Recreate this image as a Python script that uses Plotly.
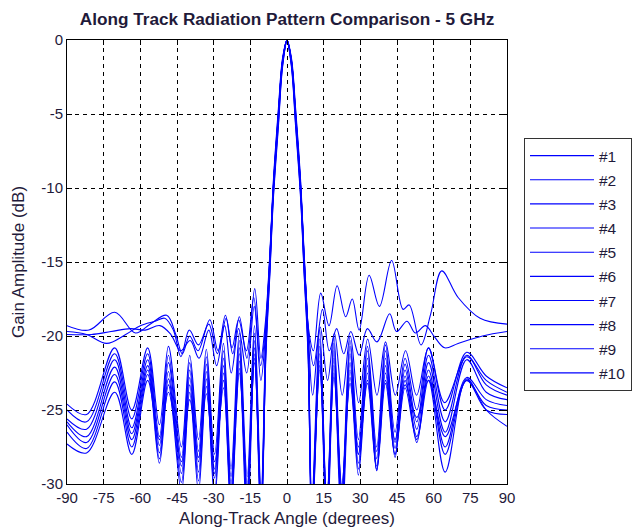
import plotly.graph_objects as go

# ---- data ----
angle_key = [-90, -82, -70.5, -63.5, -57, -52.2, -48.5, -43.2, -39.8, -36.2, -33, -29.6, -26, -22.9,
             -19.5, -16.3, -13.3, -10.6, -8.6, -7.0, -5.6, -3.5, -1.8, 0, 1.8, 3.5, 5.6, 7.0, 8.6,
             10.2, 13.4, 16.3, 19.2, 22.4, 25.8, 29.2, 32.9, 36.7, 40.3, 44.2, 48.3, 53.1, 57.9,
             64.7, 73.5, 81.5, 90]

gain_1 = [-24.6, -25.3, -20.8, -25.0, -20.8, -26.0, -20.7, -27.5, -21.3, -27.0, -20.9, -28.0, -20.5, -29.0,
          -19.8, -29.5, -19.3, -30.5, -19.5, -14.6, -9.6, -4.6, -1.2, 0.0, -1.2, -4.6, -9.6, -14.6, -19.6,
          -31.0, -19.6, -31.5, -20.0, -30.5, -20.3, -27.0, -20.7, -27.5, -20.6, -26.5, -21.5, -25.0, -20.8,
          -25.0, -21.1, -22.7, -23.5]
gain_2 = [-25.0, -25.8, -21.2, -25.6, -21.2, -26.8, -21.3, -28.2, -21.8, -27.8, -21.4, -29.0, -21.0, -30.5,
          -20.3, -31.0, -19.8, -31.5, -19.8, -14.8, -9.8, -4.8, -1.3, 0.0, -1.3, -4.8, -9.8, -14.8, -19.8,
          -32.0, -20.2, -32.0, -20.5, -31.5, -20.7, -28.0, -21.0, -28.3, -21.0, -27.2, -21.9, -25.8, -21.3,
          -25.8, -21.3, -23.3, -24.0]
gain_3 = [-25.6, -26.3, -21.6, -26.2, -21.6, -27.4, -21.8, -28.8, -22.3, -28.5, -21.9, -29.6, -21.5, -31.5,
          -20.8, -32.0, -20.3, -32.5, -20.1, -15.0, -10.0, -5.0, -1.4, 0.0, -1.4, -5.0, -10.0, -15.0, -20.0,
          -33.0, -20.7, -33.0, -21.0, -32.0, -21.2, -28.6, -21.5, -28.8, -21.5, -27.6, -22.3, -26.3, -21.8,
          -26.5, -21.6, -23.8, -24.3]
gain_4 = [-25.8, -26.8, -22.1, -26.6, -22.0, -27.9, -22.4, -29.3, -22.8, -29.2, -22.4, -30.5, -22.0, -30.0,
          -21.2, -30.5, -20.8, -31.0, -20.3, -15.2, -10.2, -5.2, -1.5, -0.1, -1.5, -5.2, -10.2, -15.2, -20.3,
          -31.5, -21.2, -31.0, -21.5, -30.5, -21.8, -29.0, -22.0, -29.1, -22.0, -28.2, -22.7, -27.2, -22.3,
          -27.5, -22.8, -24.3, -24.7]
gain_5 = [-26.0, -27.2, -22.6, -27.0, -22.3, -28.3, -22.9, -29.9, -23.3, -29.8, -22.9, -31.0, -22.5, -32.0,
          -21.7, -33.0, -21.2, -33.0, -20.6, -15.4, -10.4, -5.4, -1.6, -0.1, -1.6, -5.4, -10.4, -15.4, -20.6,
          -33.0, -21.7, -33.5, -22.0, -33.0, -22.3, -29.4, -22.5, -29.0, -22.5, -28.0, -23.0, -26.8, -22.7,
          -28.0, -23.0, -24.7, -25.0]
gain_6 = [-26.5, -27.6, -23.1, -27.5, -22.6, -28.6, -23.3, -30.5, -23.8, -30.5, -23.4, -29.3, -23.0, -29.5,
          -22.2, -31.0, -21.5, -32.0, -20.9, -15.6, -10.6, -5.6, -1.7, -0.1, -1.7, -5.6, -10.6, -15.6, -20.9,
          -32.0, -22.0, -32.0, -22.5, -31.5, -22.8, -27.5, -23.0, -27.8, -23.0, -27.0, -23.3, -25.5, -23.0,
          -26.8, -23.0, -25.0, -25.3]
gain_7 = [-27.3, -27.9, -23.8, -28.0, -23.0, -27.0, -23.8, -28.5, -24.3, -28.2, -23.9, -28.5, -23.5, -31.0,
          -22.5, -30.0, -21.8, -31.5, -21.2, -15.8, -10.8, -5.8, -1.8, -0.1, -1.8, -5.8, -10.8, -15.8, -21.2,
          -31.5, -22.3, -31.0, -22.8, -30.0, -23.2, -28.0, -23.2, -29.1, -23.2, -28.0, -23.5, -27.0, -23.0,
          -29.2, -22.9, -25.0, -26.1]

angle_8 = [-90, -80, -72, -64, -58, -52, -47.5, -43.5, -39.6, -36, -32, -28.8, -25.5, -22.8, -19.8, -16.5,
           -13.4, -10.7, -8.7, -7.1, -5.6, -3.5, -1.8, 0, 1.8, 3.5, 5.6, 7.1, 8.7,
           10.5, 13.6, 16.6, 19.4, 22.6, 25.9, 29.3, 33.0, 36.8, 40.3, 44.3, 48.5, 53.0, 57.9, 64.5, 73.5,
           81.5, 90]
gain_8 = [-19.9, -19.9, -19.7, -19.5, -19.6, -19.3, -19.9, -21.0, -20.3, -21.5, -19.6, -22.0, -19.3, -22.5,
          -19.5, -22.5, -18.0, -23.0, -19.6, -15.1, -10.1, -5.1, -1.4, 0.0, -1.4, -5.1, -10.1, -15.1, -19.8,
          -24.0, -19.4, -23.0, -19.8, -24.0, -20.0, -24.5, -20.2, -24.0, -20.4, -24.0, -21.0, -24.0, -20.8,
          -24.5, -21.4, -23.0, -23.8]

angle_9 = [-90, -82, -73.8, -66, -60, -54, -50, -46.5, -43.4, -40, -36.2, -32, -28.5, -25.2, -22.5, -19.8,
           -16.6, -13.6, -10.8, -8.7, -7.1, -5.6, -3.5, -1.8, 0, 1.8, 3.5, 5.6, 7.1, 8.7,
           10.9, 14.5, 17.3, 20.3, 23.2, 26.1, 29.5, 32.9, 36.8, 42.0, 44.8, 49.1, 52.5, 56.6, 60.5, 64.5,
           70, 80, 90]
gain_9 = [-19.7, -19.9, -20.5, -19.9, -19.3, -19.0, -18.8, -19.6, -21.4, -19.6, -20.6, -19.2, -21.2, -18.6,
          -20.8, -18.9, -21.0, -17.4, -22.0, -19.3, -15.0, -10.0, -5.0, -1.4, 0.0, -1.4, -5.0, -10.0, -15.0,
          -19.6, -22.0, -18.2, -21.0, -19.5, -21.2, -19.7, -21.3, -19.5, -20.4, -18.5, -19.7, -19.0, -19.8,
          -19.3, -20.1, -20.8, -20.5, -20.0, -19.7]

angle_10 = [-90, -81, -70.5, -62, -56, -49.2, -45.5, -42.8, -39.8, -36.4, -31.6, -28.2, -24.9, -22.2,
            -19.5, -16.4, -13.2, -10.7, -8.8, -7.2, -5.6, -3.5, -1.8, 0, 1.8, 3.5, 5.6, 7.2, 8.8,
            10.8, 13.8, 17.2, 20.5, 24, 26.7, 29.5, 33.6, 37.8, 42.8, 47.5, 50.0, 54.8, 58.8, 63.3, 70.0,
            79, 90]
gain_10 = [-19.3, -19.6, -18.4, -19.8, -19.2, -18.6, -19.9, -21.2, -20.0, -21.0, -18.9, -21.0, -18.8, -21.2,
           -18.7, -21.5, -16.8, -21.5, -19.0, -15.0, -10.0, -5.0, -1.4, 0.0, -1.4, -5.0, -10.0, -15.0, -19.5,
           -21.0, -17.1, -19.3, -16.6, -18.7, -17.5, -19.6, -15.9, -18.0, -14.9, -18.2, -17.9, -20.6, -18.5,
           -15.6, -17.4, -18.8, -19.2]

series_names = ["#1", "#2", "#3", "#4", "#5", "#6", "#7", "#8", "#9", "#10"]
series_x = [angle_key] * 7 + [angle_8, angle_9, angle_10]
series_y = [gain_1, gain_2, gain_3, gain_4, gain_5, gain_6, gain_7, gain_8, gain_9, gain_10]

x_ticks = [-90, -75, -60, -45, -30, -15, 0, 15, 30, 45, 60, 75, 90]
y_ticks = [-30, -25, -20, -15, -10, -5, 0]

TXT = "#1f1a3a"
FONT = "Liberation Sans, Arial, sans-serif"

fig = go.Figure()
for i, (nm, xs, ys) in enumerate(zip(series_names, series_x, series_y)):
    fig.add_trace(go.Scatter(
        x=xs, y=ys, name=nm, mode="lines",
        line=dict(color="#0000ff", width=1.1, shape="spline", smoothing=1.0),
        legendgroup=nm,
    ))

axis_common = dict(
    showline=True, linecolor="black", linewidth=1, mirror="ticks",
    ticks="inside", ticklen=5, tickcolor="black",
    showgrid=True, gridcolor="black", gridwidth=1, griddash="4px,4px",
    zeroline=False, tickfont=dict(family=FONT, size=15, color=TXT),
    automargin=False,
)

fig.update_layout(
    width=637, height=531,
    margin=dict(l=67, r=130, t=40, b=47, autoexpand=False),
    paper_bgcolor="white", plot_bgcolor="white",
    title=dict(text="<b>Along Track Radiation Pattern Comparison - 5 GHz</b>",
               font=dict(family=FONT, size=17.2, color=TXT),
               x=(67 + 507) / 2 / 637, xanchor="center", y=1 - 19 / 531, yanchor="middle"),
    xaxis=dict(range=[-90, 90], tickvals=x_ticks, ticktext=[str(v) for v in x_ticks],
               title=dict(text="Along-Track Angle (degrees)", font=dict(family=FONT, size=17, color=TXT),
                          standoff=7),
               **axis_common),
    yaxis=dict(range=[-30, 0], tickvals=y_ticks, ticktext=[str(v) for v in y_ticks],
               title=dict(text="Gain Amplitude (dB)", font=dict(family=FONT, size=17, color=TXT),
                          standoff=12),
               **axis_common),
    legend=dict(x=(524 - 67) / 440, y=(484 - 138) / 444, xanchor="left", yanchor="top",
                bordercolor="#333333", borderwidth=1, bgcolor="white",
                font=dict(family=FONT, size=15.5, color=TXT), tracegroupgap=1,
                itemwidth=64),
    showlegend=True,
)

fig.write_html("out.html")
